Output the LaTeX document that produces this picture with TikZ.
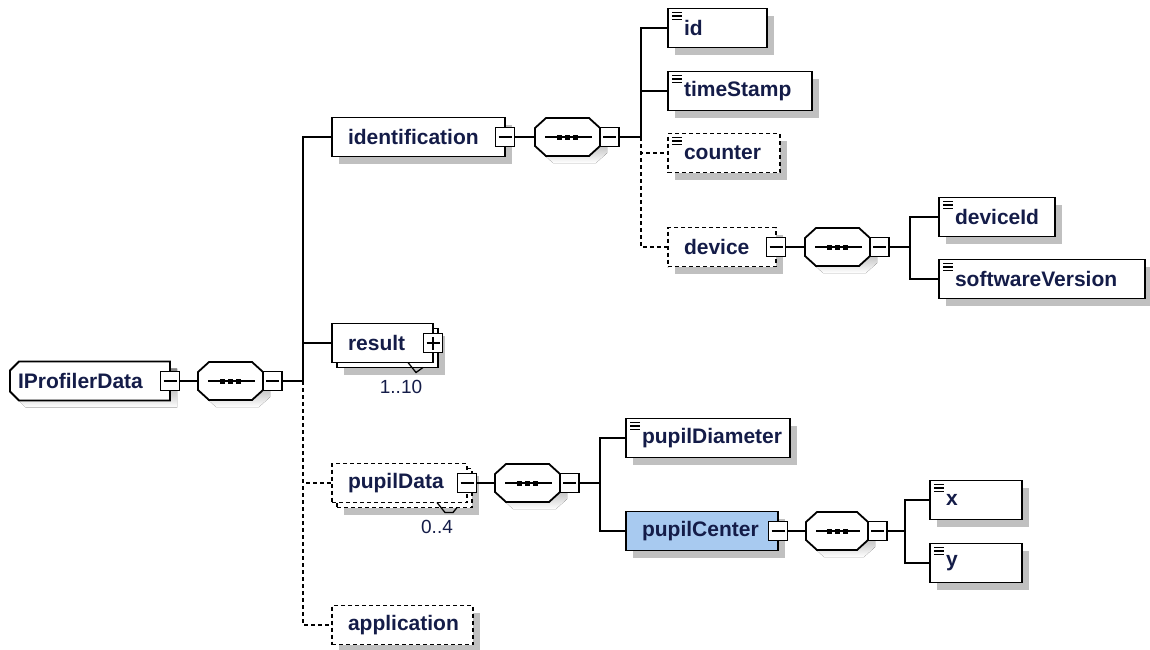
\documentclass[tikz,border=0pt]{standalone}
\usepackage{fontspec}
\setmainfont{Liberation Sans}
\usetikzlibrary{shadows, backgrounds}

\begin{document}
\begin{tikzpicture}[x=1pt, y=-1pt]

% Define colors for the schema view
\definecolor{shade}{RGB}{192,192,192}
\definecolor{labeltext}{RGB}{20,28,72}
\definecolor{selected}{RGB}{168,202,240}

\tikzset{
  box/.style={draw, line width=1.8, fill=white, anchor=west, minimum height=39,
    inner xsep=16, inner ysep=0, outer sep=0, text width=#1, align=left,
    font=\bfseries\fontsize{21}{24}\selectfont, text=labeltext},
  shadowed/.style={drop shadow={shadow xshift=7pt, shadow yshift=-7pt, fill=shade, opacity=1}},
  elem/.style={box=#1, shadowed},
  simple/.style={elem=#1, path picture={
    \foreach \k in {4,7.5,11}
      \draw[solid, line width=1.3] ([xshift=4,yshift=-\k]path picture bounding box.north west) -- ++(10,0);}},
  optional/.style={dash pattern=on 4pt off 3pt},
  seqbox/.style={anchor=west, minimum width=#1, minimum height=38, inner sep=0, outer sep=0},
  octo/.style 2 args={insert path={
    ([shift={#2},yshift=-10]#1.north west) -- ([shift={#2},xshift=11]#1.north west)
    -- ([shift={#2},xshift=-11]#1.north east) -- ([shift={#2},yshift=-10]#1.north east)
    -- ([shift={#2},yshift=10]#1.south east) -- ([shift={#2},xshift=-11]#1.south east)
    -- ([shift={#2},xshift=11]#1.south west) -- ([shift={#2},yshift=10]#1.south west) -- cycle}},
  rootshape/.style={insert path={
    ([shift={#1},xshift=9]root.north west) -- ([shift={#1}]root.north east)
    -- ([shift={#1}]root.south east) -- ([shift={#1},xshift=9]root.south west)
    -- ([shift={#1},yshift=9]root.south west) -- ([shift={#1},yshift=-9]root.north west) -- cycle}},
  toggle/.style={draw, line width=1.5, fill=white, minimum size=19, inner sep=0, outer sep=0,
    path picture={\draw[line width=1.3] ([xshift=3]path picture bounding box.west) -- ([xshift=-3]path picture bounding box.east);}},
  expand/.style={toggle, path picture={
    \draw[line width=1.3] ([xshift=3]path picture bounding box.west) -- ([xshift=-3]path picture bounding box.east);
    \draw[line width=1.3] ([yshift=3]path picture bounding box.south) -- ([yshift=-3]path picture bounding box.north);}},
  wire/.style={line width=1.5},
  mult/.style={font=\fontsize{19}{22}\selectfont, text=labeltext, inner sep=0}
}

\useasboundingbox (0,0) rectangle (1150,649);

% Root element
\node[box=144, inner xsep=8, draw=none, fill=none] (root) at (10,381) {IProfilerData};
\node[toggle] (root-t) at (root.east) {};
\node[seqbox=65] (s0) at (198,381) {};
\node[toggle, anchor=west] (s0-t) at (s0.east) {};

% First level
\node[elem=141] (ident) at (332,137) {identification};
\node[toggle] (ident-t) at (ident.east) {};

\node[elem=69] (result-b) at (337,348) {};
\node[box=69] (result) at (332,343) {result};
\node[expand] (result-t) at (result.east) {};
\draw[line width=1.3] ([xshift=-25]result.south east) -- ++(8,10) -- ++(7,-5);
\node[mult] (result-n) at (401,387) {1..10};

\node[elem=103, optional] (pupil-b) at (337,488) {};
\node[box=103, optional] (pupil) at (332,483) {pupilData};
\node[toggle] (pupil-t) at (pupil.east) {};
\draw[line width=1.3] ([xshift=-30]pupil.south east) -- ++(8,10) -- ++(8,0) -- ++(4,-5);
\node[mult] (pupil-n) at (437,527) {0..4};

\node[elem=109, optional] (appl) at (332,625) {application};

% identification content
\node[seqbox=65] (s1) at (535,137) {};
\node[toggle, anchor=west] (s1-t) at (s1.east) {};
\node[simple=67] (id) at (668,28) {id};
\node[simple=112] (stamp) at (668,91) {timeStamp};
\node[simple=80, optional] (counter) at (668,153) {counter};
\node[elem=76, optional] (device) at (668,247) {device};
\node[toggle] (device-t) at (device.east) {};

% device content
\node[seqbox=65] (s2) at (805,247) {};
\node[toggle, anchor=west] (s2-t) at (s2.east) {};
\node[simple=84] (devid) at (939,217) {deviceId};
\node[simple=174] (softver) at (939,279) {softwareVersion};

% pupilData content
\node[seqbox=65] (s3) at (495,483) {};
\node[toggle, anchor=west] (s3-t) at (s3.east) {};
\node[simple=132] (diam) at (626,438) {pupilDiameter};
\node[elem=120, fill=selected] (center) at (626,531) {pupilCenter};
\node[toggle] (center-t) at (center.east) {};

% pupilCenter content
\node[seqbox=62] (s4) at (806,531) {};
\node[toggle, anchor=west] (s4-t) at (s4.east) {};
\node[simple=60] (xpos) at (930,500) {x};
\node[simple=60] (ypos) at (930,563) {y};

% Root outline and sequence compositors
\begin{scope}[on background layer]
  \fill[shade] [rootshape={(7,7)}];
  \filldraw[fill=white, line width=1.8] [rootshape={(0,0)}];
  \foreach \s in {s0,s1,s2,s3,s4} {
    \fill[shade] [octo={\s}{(7,7)}];
    \filldraw[fill=white, line width=1.8] [octo={\s}{(0,0)}];
  }
\end{scope}

% Sequence marks
\foreach \s in {s0,s1,s2,s3,s4} {
  \draw[line width=1.3] ([xshift=10]\s.west) -- ([xshift=-8]\s.east);
  \foreach \d in {-8,0,8}
    \fill ([xshift=\d]\s.center) ++(-2.5,-2.5) rectangle ++(5,5);
}

% Connectors
\coordinate (j0) at (303,381);
\coordinate (j1) at (641,137);
\coordinate (j2) at (910,247);
\coordinate (j3) at (600,483);
\coordinate (j4) at (905,531);

\draw[wire] (root-t.east) -- (s0.west);
\draw[wire] (s0-t.east) -- (j0);
\draw[wire] (j0) |- (ident.west);
\draw[wire] (j0) |- (result.west);
\draw[wire, optional] (j0) |- (pupil.west);
\draw[wire, optional] (j0) |- (appl.west);

\draw[wire] (ident-t.east) -- (s1.west);
\draw[wire] (s1-t.east) -- (j1);
\draw[wire] (j1) |- (id.west);
\draw[wire] (j1) |- (stamp.west);
\draw[wire, optional] (j1) |- (counter.west);
\draw[wire, optional] (j1) |- (device.west);

\draw[wire] (device-t.east) -- (s2.west);
\draw[wire] (s2-t.east) -- (j2);
\draw[wire] (j2) |- (devid.west);
\draw[wire] (j2) |- (softver.west);

\draw[wire] (pupil-t.east) -- (s3.west);
\draw[wire] (s3-t.east) -- (j3);
\draw[wire] (j3) |- (diam.west);
\draw[wire] (j3) |- (center.west);

\draw[wire] (center-t.east) -- (s4.west);
\draw[wire] (s4-t.east) -- (j4);
\draw[wire] (j4) |- (xpos.west);
\draw[wire] (j4) |- (ypos.west);

\end{tikzpicture}
\end{document}
